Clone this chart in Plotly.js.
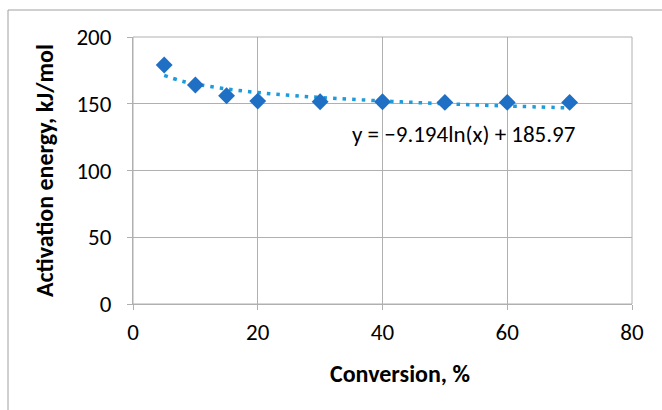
<!DOCTYPE html>
<html>
<head>
<meta charset="utf-8">
<script src="https://cdn.plot.ly/plotly-3.0.1.min.js"></script>
<style>html,body{margin:0;padding:0;background:#fff;}#chart{width:662px;height:410px;}</style>
</head>
<body>
<div id="chart"></div>
<script>
// Data
const conversion = [5, 10, 15, 20, 30, 40, 50, 60, 70];
const activationEnergy = [179, 164, 156, 152, 151.5, 151.5, 151, 151, 151];
// Logarithmic trendline as drawn in the reference
const trendX = [5, 7.5, 10, 15, 20, 25, 30, 40, 50, 60, 70];
const trendY = [171.2, 167.4, 164.8, 161.1, 158.4, 156.4, 154.7, 152.1, 150.0, 148.3, 146.9];
const equationText = "y = −9.194ln(x) + 185.97";
const xTitle = "Conversion, %";
const yTitle = "Activation energy, kJ/mol";
const xTicks = [0, 20, 40, 60, 80];
const yTicks = [0, 50, 100, 150, 200];

const font = "Carlito, 'Liberation Sans', 'Noto Sans', sans-serif";
const fs = 23;

const traces = [
  {
    x: trendX, y: trendY, type: 'scatter', mode: 'lines',
    line: {color: '#1E9BDB', width: 3.5, dash: '3.5px,6px', shape: 'spline'},
    hoverinfo: 'skip', showlegend: false
  },
  {
    x: conversion, y: activationEnergy, type: 'scatter', mode: 'markers',
    marker: {symbol: 'diamond', size: 13, color: '#1F6FC5'},
    showlegend: false
  }
];

const L = 133, R = 30, T = 37, B = 106, W = 662, H = 410;
const pw = W - L - R, ph = H - T - B;
const px = v => (v - L) / pw;           // pixel x -> paper x
const py = v => (H - B - v) / ph;       // pixel y -> paper y

const layout = {
  width: W, height: H,
  margin: {l: L, r: R, t: T, b: B, pad: 0},
  paper_bgcolor: '#ffffff', plot_bgcolor: '#ffffff',
  font: {family: font, size: fs, color: '#000000'},
  xaxis: {
    range: [0, 80], tickvals: xTicks, ticktext: xTicks.map(String),
    showgrid: true, gridcolor: '#b0b0b0', gridwidth: 1,
    zeroline: false, showline: true, linecolor: '#b0b0b0', linewidth: 1,
    ticks: 'outside', ticklen: 5, tickcolor: '#b0b0b0',
    tickfont: {size: fs}, ticklabelstandoff: 2
  },
  yaxis: {
    range: [0, 200], tickvals: yTicks, ticktext: yTicks.map(String),
    showgrid: true, gridcolor: '#b0b0b0', gridwidth: 1,
    zeroline: false, showline: true, linecolor: '#b0b0b0', linewidth: 1,
    ticks: 'outside', ticklen: 5, tickcolor: '#b0b0b0',
    tickfont: {size: fs}, ticklabelstandoff: 11
  },
  shapes: [
    {type: 'rect', xref: 'paper', yref: 'paper', x0: 0, x1: 1, y0: 0, y1: 1,
     line: {color: '#b0b0b0', width: 1}, layer: 'below'},
    {type: 'rect', xref: 'paper', yref: 'paper',
     x0: px(8), x1: px(W + 5), y0: py(H + 5), y1: py(10),
     line: {color: '#a0a0a0', width: 1}}
  ],
  annotations: [
    {x: 53, y: 127.5, xref: 'x', yref: 'y', text: equationText, showarrow: false,
     font: {size: fs, family: font}},
    {x: px(400), y: py(373), xref: 'paper', yref: 'paper', text: '<b>' + xTitle + '</b>',
     showarrow: false, xanchor: 'center', yanchor: 'middle', font: {size: 24, family: font}},
    {x: px(44), y: py(171), xref: 'paper', yref: 'paper', text: '<b>' + yTitle + '</b>',
     showarrow: false, textangle: -90, xanchor: 'center', yanchor: 'middle', font: {size: 24, family: font}}
  ]
};

Plotly.newPlot('chart', traces, layout, {displayModeBar: false, staticPlot: true});
</script>
</body>
</html>
